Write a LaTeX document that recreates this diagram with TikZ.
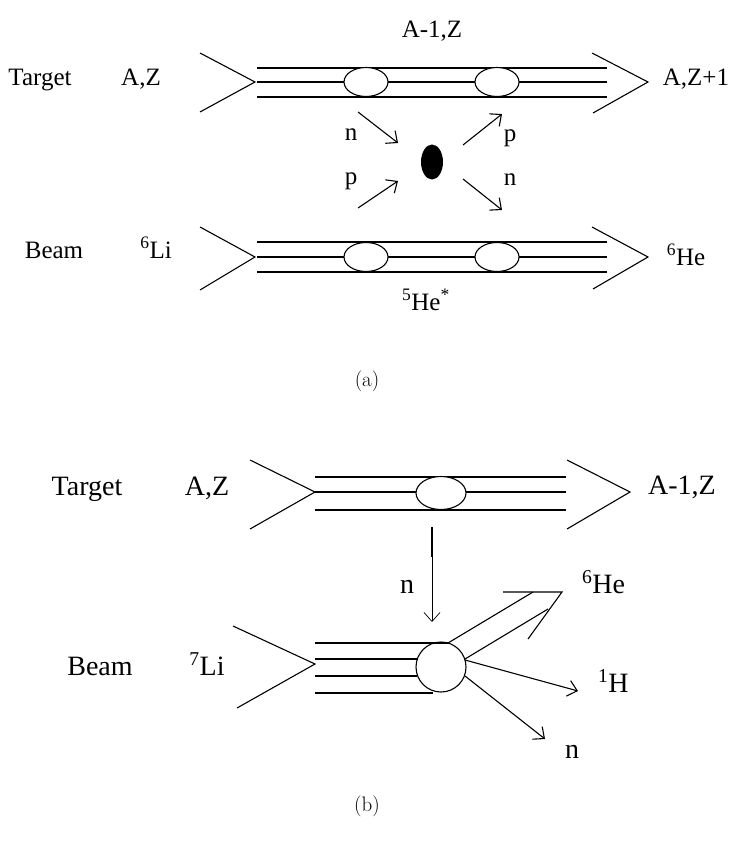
\documentclass[tikz,border=0pt]{standalone}
\usepackage{fontspec}
\newfontfamily\tnr{Liberation Serif}
\usetikzlibrary{arrows.meta,shapes.geometric}

\begin{document}
\begin{tikzpicture}[x=1pt,y=-1pt,line width=1.1pt,>={Straight Barb[length=9pt,width=16pt]},
  every node/.style={inner sep=0pt,outer sep=0pt},
  lbla/.style={font=\tnr\fontsize{25}{27}\selectfont,anchor=base},
  lblb/.style={font=\tnr\fontsize{28}{30}\selectfont,anchor=base},
  hole/.style={draw,ellipse,fill=white,line width=1.1pt},
  subcap/.style={font=\fontsize{21}{24}\selectfont}]
  \useasboundingbox (0,0) rectangle (730,843);
  % (a) target row
  \coordinate (tinA) at (255,82);
  \coordinate (toutA) at (648,82);
  \draw (200,53) -- (tinA) -- (200,112);
  \draw (592,53) -- (toutA) -- (593,113);
  \foreach \y in {68,82,97} \draw (257,\y) -- (607,\y);
  \node[hole,minimum width=44pt,minimum height=29pt] (ta1) at (366,82) {};
  \node[hole,minimum width=44pt,minimum height=29pt] (ta2) at (497,82) {};
  \node[lbla] (tgtA) at (40,85) {Target};
  \node[lbla] (azA) at (141,85) {A,Z};
  \node[lbla] (amA) at (432,38) {A-1,Z};
  \node[lbla] (azpA) at (696,85) {A,Z+1};
  % (a) beam row
  \coordinate (binA) at (255,257);
  \coordinate (boutA) at (648,257);
  \draw (200,227) -- (binA) -- (200,290);
  \draw (592,227) -- (boutA) -- (593,289);
  \foreach \y in {242,257,272} \draw (257,\y) -- (607,\y);
  \node[hole,minimum width=44pt,minimum height=29pt] (ba1) at (366,257) {};
  \node[hole,minimum width=44pt,minimum height=29pt] (ba2) at (497,257) {};
  \node[lbla] (beamA) at (54,258) {Beam};
  \node[lbla] (liA) at (156,258) {\textsuperscript{6}Li};
  \node[lbla] (heA) at (686,265) {\textsuperscript{6}He};
  \node[lbla] (hesA) at (426,310) {\textsuperscript{5}He\textsuperscript{*}};
  % (a) exchange
  \node[ellipse,fill=black,minimum width=22pt,minimum height=35pt] (blob) at (432,162) {};
  \coordinate (n1s) at (358,112); \coordinate (n1e) at (398,143);
  \coordinate (p1s) at (358,208); \coordinate (p1e) at (398,181);
  \coordinate (p2s) at (463,145); \coordinate (p2e) at (502,114);
  \coordinate (n2s) at (463,179); \coordinate (n2e) at (502,210);
  \draw[->] (n1s) -- (n1e);
  \draw[->] (p1s) -- (p1e);
  \draw[->] (p2s) -- (p2e);
  \draw[->] (n2s) -- (n2e);
  \node[font=\tnr\fontsize{25}{27}\selectfont] (nA1) at (351,135) {n};
  \node[font=\tnr\fontsize{25}{27}\selectfont] (pA1) at (351,181) {p};
  \node[font=\tnr\fontsize{25}{27}\selectfont] (pA2) at (510,138) {p};
  \node[font=\tnr\fontsize{25}{27}\selectfont] (nA2) at (510,180) {n};
  \node[subcap] (capA) at (367,381) {(a)};
  % (b) target row
  \coordinate (tinB) at (315,492);
  \coordinate (toutB) at (630,492);
  \draw (250,460) -- (tinB) -- (250,529);
  \draw (567,460) -- (toutB) -- (567,529);
  \foreach \y in {477,492,510} \draw (315,\y) -- (566,\y);
  \node[hole,minimum width=50pt,minimum height=33pt] (tb) at (441,493) {};
  \node[lblb] (tgtB) at (87,495) {Target};
  \node[lblb] (azB) at (207,495) {A,Z};
  \node[lblb] (amB) at (682,494) {A-1,Z};
  % (b) neutron transfer
  \coordinate (drop) at (432,527);
  \coordinate (hit) at (432,622);
  \draw (drop) -- (432,557);
  \draw[->,line width=0.7pt] (drop) -- (hit);
  \node[lblb] (nB1) at (407,593) {n};
  % (b) beam row
  \coordinate (binB) at (315,664);
  \draw (233,626) -- (binB) -- (237,708);
  \node[circle,draw,minimum size=50pt,line width=1.1pt] (core) at (441,667) {};
  \draw (315,643) -- (448,643);
  \draw (315,659) -- (417,659);
  \draw (315,676) -- (417,676);
  \draw (315,693) -- (433,693);
  \node[lblb] (beamB) at (100,675) {Beam};
  \node[lblb] (liB) at (207,675) {\textsuperscript{7}Li};
  % (b) break-up
  \coordinate (hetip) at (562,592);
  \draw (448,643) -- (533,592);
  \draw (465,659) -- (548,609);
  \draw (503,592) -- (hetip) -- (528,639);
  \coordinate (hs) at (465,660); \coordinate (he) at (578,691);
  \coordinate (ns) at (465,676); \coordinate (ne) at (545,739);
  \draw[->] (hs) -- (he);
  \draw[->] (ns) -- (ne);
  \node[lblb,anchor=base west] (heB) at (582,593) {\textsuperscript{6}He};
  \node[lblb,anchor=base west] (hB) at (598,692) {\textsuperscript{1}H};
  \node[lblb] (nB2) at (572,758) {n};
  \node[subcap] (capB) at (367,806) {(b)};
\end{tikzpicture}
\end{document}
